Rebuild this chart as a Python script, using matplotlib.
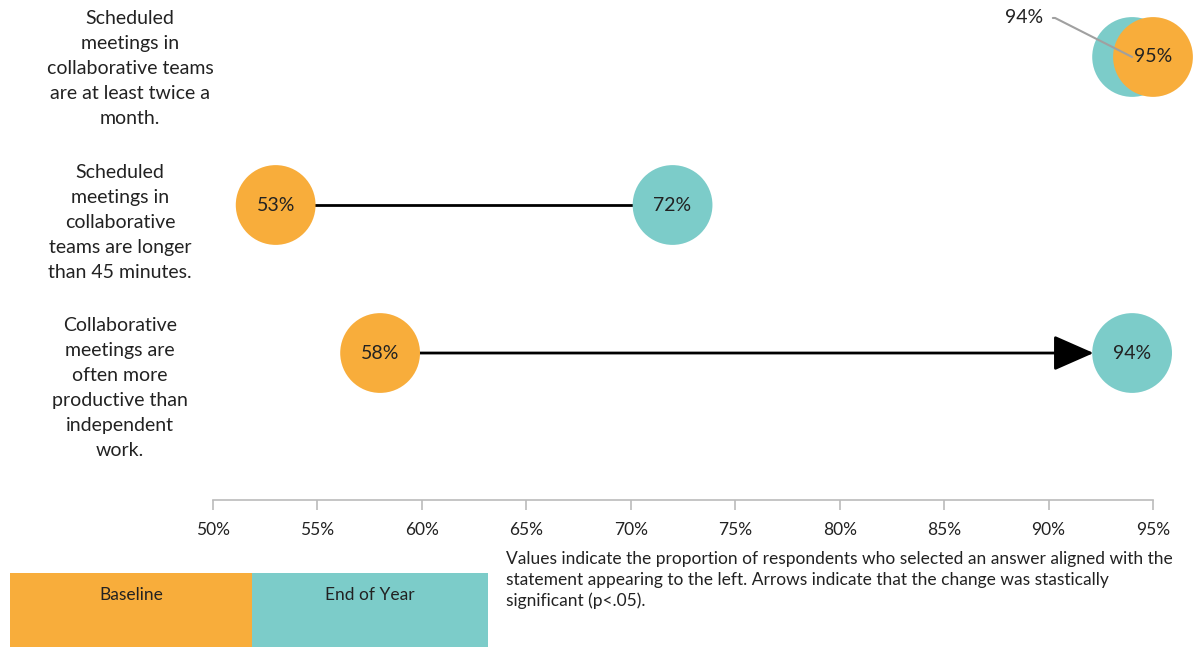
import numpy as np
import matplotlib
matplotlib.use("Agg")
import matplotlib.pyplot as plt
import matplotlib.transforms as mtransforms
from matplotlib.patches import Rectangle

plt.rcParams['font.family'] = ['Lato', 'DejaVu Sans']

statements = [
    "Scheduled\nmeetings in\ncollaborative teams\nare at least twice a\nmonth.",
    "Scheduled\nmeetings in\ncollaborative\nteams are longer\nthan 45 minutes.",
    "Collaborative\nmeetings are\noften more\nproductive than\nindependent\nwork.",
]
baseline = [95, 53, 58]
end_of_year = [94, 72, 94]
significant = [False, False, True]
xticks = [50, 55, 60, 65, 70, 75, 80, 85, 90, 95]
note = ("Values indicate the proportion of respondents who selected an answer aligned with the\n"
        "statement appearing to the left. Arrows indicate that the change was stastically\n"
        "significant (p<.05).")

orange = '#F8AD3B'
teal = '#7CCCC9'
ink = '#222222'
W, H = 1195, 647

fig = plt.figure(figsize=(W / 100, H / 100), dpi=100)
ax = fig.add_axes([213 / W, (H - 500) / H, 940 / W, 500 / H])
rows = np.arange(len(statements))
ax.set_xlim(50, 95)
ax.set_ylim(2.993, -0.385)

size = 3300  # marker area, about 40 px radius
r_pt = np.sqrt(size) / 2

for i in rows:
    b, e = baseline[i], end_of_year[i]
    if significant[i]:
        ax.annotate('', xy=(e, i), xytext=(b, i),
                    arrowprops=dict(arrowstyle='-|>,head_length=25,head_width=11',
                                    mutation_scale=1, color='black', lw=2,
                                    shrinkA=r_pt, shrinkB=r_pt - 1),
                    zorder=1, annotation_clip=False)
    elif abs(e - b) > 2:
        ax.plot([b, e], [i, i], color='black', lw=2, zorder=1)

    # end of year first so baseline sits on top where they overlap
    ax.scatter([e], [i], s=size, color=teal, edgecolors='none', zorder=2, clip_on=False)
    ax.scatter([b], [i], s=size, color=orange, edgecolors='none', zorder=3, clip_on=False)
    ax.text(b, i, f"{b}%", ha='center', va='center', fontsize=14, color=ink, zorder=5)
    if abs(e - b) > 2:
        ax.text(e, i, f"{e}%", ha='center', va='center', fontsize=14, color=ink, zorder=5)
    else:
        # overlapping circles: put the end-of-year value outside with a leader line
        ax.annotate(f"{e}%", xy=(e, i), xytext=(-89, 39), textcoords='offset pixels',
                    ha='right', va='center', fontsize=14, color=ink, zorder=6,
                    annotation_clip=False,
                    arrowprops=dict(arrowstyle='-', color='#A0A0A0', lw=1.5,
                                    relpos=(1, 0.5), shrinkA=5, shrinkB=0,
                                    connectionstyle='arc,angleA=0,armA=12,angleB=0,armB=0,rad=0'))

# statement labels on the left
lab_tr = mtransforms.blended_transform_factory(fig.transFigure, ax.transData)
label_x = [130, 120, 120]
label_offset = [-0.32, -0.28, -0.245]
for i in rows:
    ax.text(label_x[i] / W, i + label_offset[i], statements[i], transform=lab_tr,
            ha='center', va='top', multialignment='center', fontsize=14,
            linespacing=1.58, color=ink)

for s in ['top', 'left', 'right']:
    ax.spines[s].set_visible(False)
ax.spines['bottom'].set_color('#BBBBBB')
ax.spines['bottom'].set_linewidth(1.2)
ax.set_yticks([])
ax.set_xticks(xticks)
ax.set_xticklabels([f"{t}%" for t in xticks])
ax.tick_params(axis='x', colors='#BBBBBB', length=7, width=1.2, labelsize=12.5,
               labelcolor=ink, pad=9)
ax.patch.set_visible(False)

# legend boxes
fig.patches.append(Rectangle((10 / W, 0), 242 / W, 74 / H, transform=fig.transFigure,
                             facecolor=orange, edgecolor='none'))
fig.patches.append(Rectangle((252 / W, 0), 236 / W, 74 / H, transform=fig.transFigure,
                             facecolor=teal, edgecolor='none'))
fig.text(131 / W, (H - 595) / H, "Baseline", ha='center', va='center', fontsize=12.5, color=ink)
fig.text(370 / W, (H - 595) / H, "End of Year", ha='center', va='center', fontsize=12.5, color=ink)

fig.text(506 / W, (H - 551) / H, note, ha='left', va='top', fontsize=12.5,
         linespacing=1.35, color=ink)

fig.savefig('out.png', dpi=100)
